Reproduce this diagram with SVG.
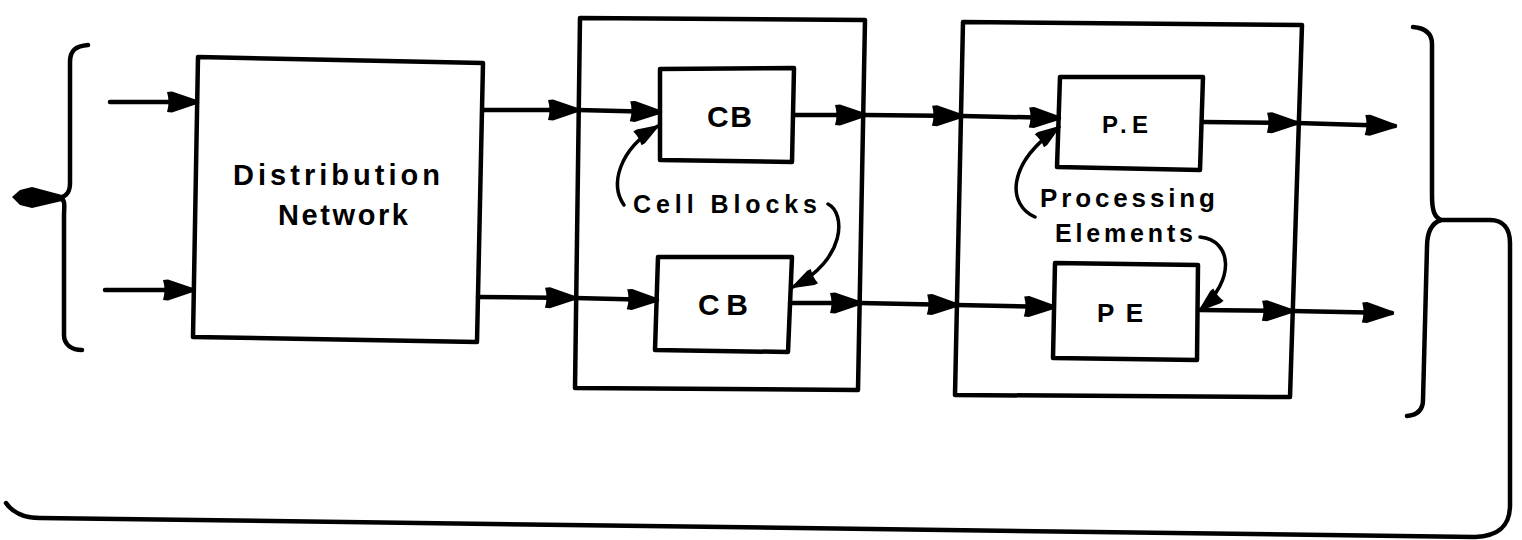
<svg xmlns="http://www.w3.org/2000/svg" width="1522" height="540" viewBox="0 0 1522 540">
<style>
.box{fill:#fff;stroke:#000;stroke-width:4.5;stroke-linejoin:round}
.ln{fill:none;stroke:#000;stroke-width:4.5;stroke-linecap:round}
.cv{fill:none;stroke:#000;stroke-width:3.5;stroke-linecap:round}
.br{fill:none;stroke:#000;stroke-width:4.5;stroke-linecap:round;stroke-linejoin:round}
.t{font-family:"Liberation Sans",Arial,sans-serif;font-weight:bold;fill:#000}
</style>
<defs>
<marker id="ah" markerUnits="userSpaceOnUse" markerWidth="34" markerHeight="24" refX="30" refY="12" orient="auto" overflow="visible">
<path d="M0,2 L5,1.5 L30,10 L30,14 L5,22.5 L0,22 Q3,12 0,2 Z" fill="#000"/>
</marker>
<marker id="ahs" markerUnits="userSpaceOnUse" markerWidth="28" markerHeight="20" refX="24" refY="9" orient="auto" overflow="visible">
<path d="M0,1 L4,1 L24,8 L24,10 L4,17 L0,17 Q2,9 0,1 Z" fill="#000"/>
</marker>
</defs>
<rect width="1522" height="540" fill="#fff"/>

<g id="left-brace">
<path class="br" d="M88,45 C76,46 70,50 70,62 L70,183 C70,192 67,196 60,198 C66,200 64,206 64,216 L64,335 C64,345 72,350 82,350"/>
<path d="M12,197 L20,190 L32,187 L62,195 L62,201 L32,208 L20,205 Z" fill="#000"/>
</g>

<g id="right-brace">
<path class="br" d="M1413,27 C1425,28 1432,33 1432,44 L1432,195 C1432,210 1434,217 1441,220 L1490,220 C1503,220 1510,228 1510,243 L1510,505 C1510,525 1500,536 1475,537 L40,518 C24,518 12,512 6,503"/>
<path class="br" d="M1441,220 C1432,223 1427,232 1427,247 L1423,400 C1423,410 1417,415 1407,416"/>
</g>

<g id="dist-network">
<polygon class="box" points="198,57 483,63 477,342 193,337"/>
<text class="t" x="233" y="185" font-size="29" textLength="207" lengthAdjust="spacing">Distribution</text>
<text class="t" x="278" y="225" font-size="29" textLength="130" lengthAdjust="spacing">Network</text>
</g>

<g id="cell-blocks-group">
<polygon class="box" points="580,18 865,20 858,390 575,388"/>
</g>
<g id="cb-top">
<polygon class="box" points="660,69 794,68 792,162 660,160"/>
<text class="t" x="707" y="127" font-size="30" textLength="45" lengthAdjust="spacing">CB</text>
</g>
<g id="cb-bottom">
<polygon class="box" points="658,257 792,257 788,352 655,350"/>
<text class="t" x="698" y="315" font-size="30" textLength="50" lengthAdjust="spacing">CB</text>
</g>
<g id="cell-blocks-label">
<text class="t" x="633" y="213" font-size="25" textLength="184" lengthAdjust="spacing">Cell Blocks</text>
</g>

<g id="pe-group">
<polygon class="box" points="963,22 1302,25 1290,397 955,395"/>
</g>
<g id="pe-top">
<polygon class="box" points="1060,77 1203,77 1200,170 1057,167"/>
<text class="t" x="1102" y="133" font-size="24" textLength="46" lengthAdjust="spacing">P.E</text>
</g>
<g id="pe-bottom">
<polygon class="box" points="1055,263 1198,265 1197,360 1053,358"/>
<text class="t" x="1097" y="322" font-size="26" textLength="46" lengthAdjust="spacing">PE</text>
</g>
<g id="pe-label">
<text class="t" x="1040" y="207" font-size="26" textLength="175" lengthAdjust="spacing">Processing</text>
<text class="t" x="1055" y="242" font-size="25" textLength="138" lengthAdjust="spacing">Elements</text>
</g>

<g id="connectors">
<line class="ln" x1="110" y1="102" x2="197" y2="102" marker-end="url(#ah)"/>
<line class="ln" x1="105" y1="290" x2="193" y2="290" marker-end="url(#ah)"/>
<line class="ln" x1="483" y1="110" x2="578" y2="110" marker-end="url(#ah)"/>
<line class="ln" x1="578" y1="110" x2="660" y2="112" marker-end="url(#ah)"/>
<line class="ln" x1="478" y1="297" x2="575" y2="298" marker-end="url(#ah)"/>
<line class="ln" x1="575" y1="298" x2="657" y2="300" marker-end="url(#ah)"/>
<line class="ln" x1="794" y1="115" x2="865" y2="115" marker-end="url(#ah)"/>
<line class="ln" x1="865" y1="115" x2="962" y2="116" marker-end="url(#ah)"/>
<line class="ln" x1="962" y1="116" x2="1059" y2="118" marker-end="url(#ah)"/>
<line class="ln" x1="790" y1="303" x2="860" y2="303" marker-end="url(#ah)"/>
<line class="ln" x1="860" y1="303" x2="957" y2="305" marker-end="url(#ah)"/>
<line class="ln" x1="957" y1="305" x2="1054" y2="307" marker-end="url(#ah)"/>
<line class="ln" x1="1203" y1="122" x2="1297" y2="123" marker-end="url(#ah)"/>
<line class="ln" x1="1297" y1="123" x2="1395" y2="126" marker-end="url(#ah)"/>
<line class="ln" x1="1198" y1="310" x2="1292" y2="311" marker-end="url(#ah)"/>
<line class="ln" x1="1292" y1="311" x2="1392" y2="313" marker-end="url(#ah)"/>
<path class="cv" d="M624,205 C610,185 618,150 658,126" marker-end="url(#ahs)"/>
<path class="cv" d="M828,204 C846,213 846,260 793,287" marker-end="url(#ahs)"/>
<path class="cv" d="M1035,217 C1008,205 1005,165 1059,127" marker-end="url(#ahs)"/>
<path class="cv" d="M1200,237 C1232,240 1236,280 1200,310" marker-end="url(#ahs)"/>
</g>
</svg>
